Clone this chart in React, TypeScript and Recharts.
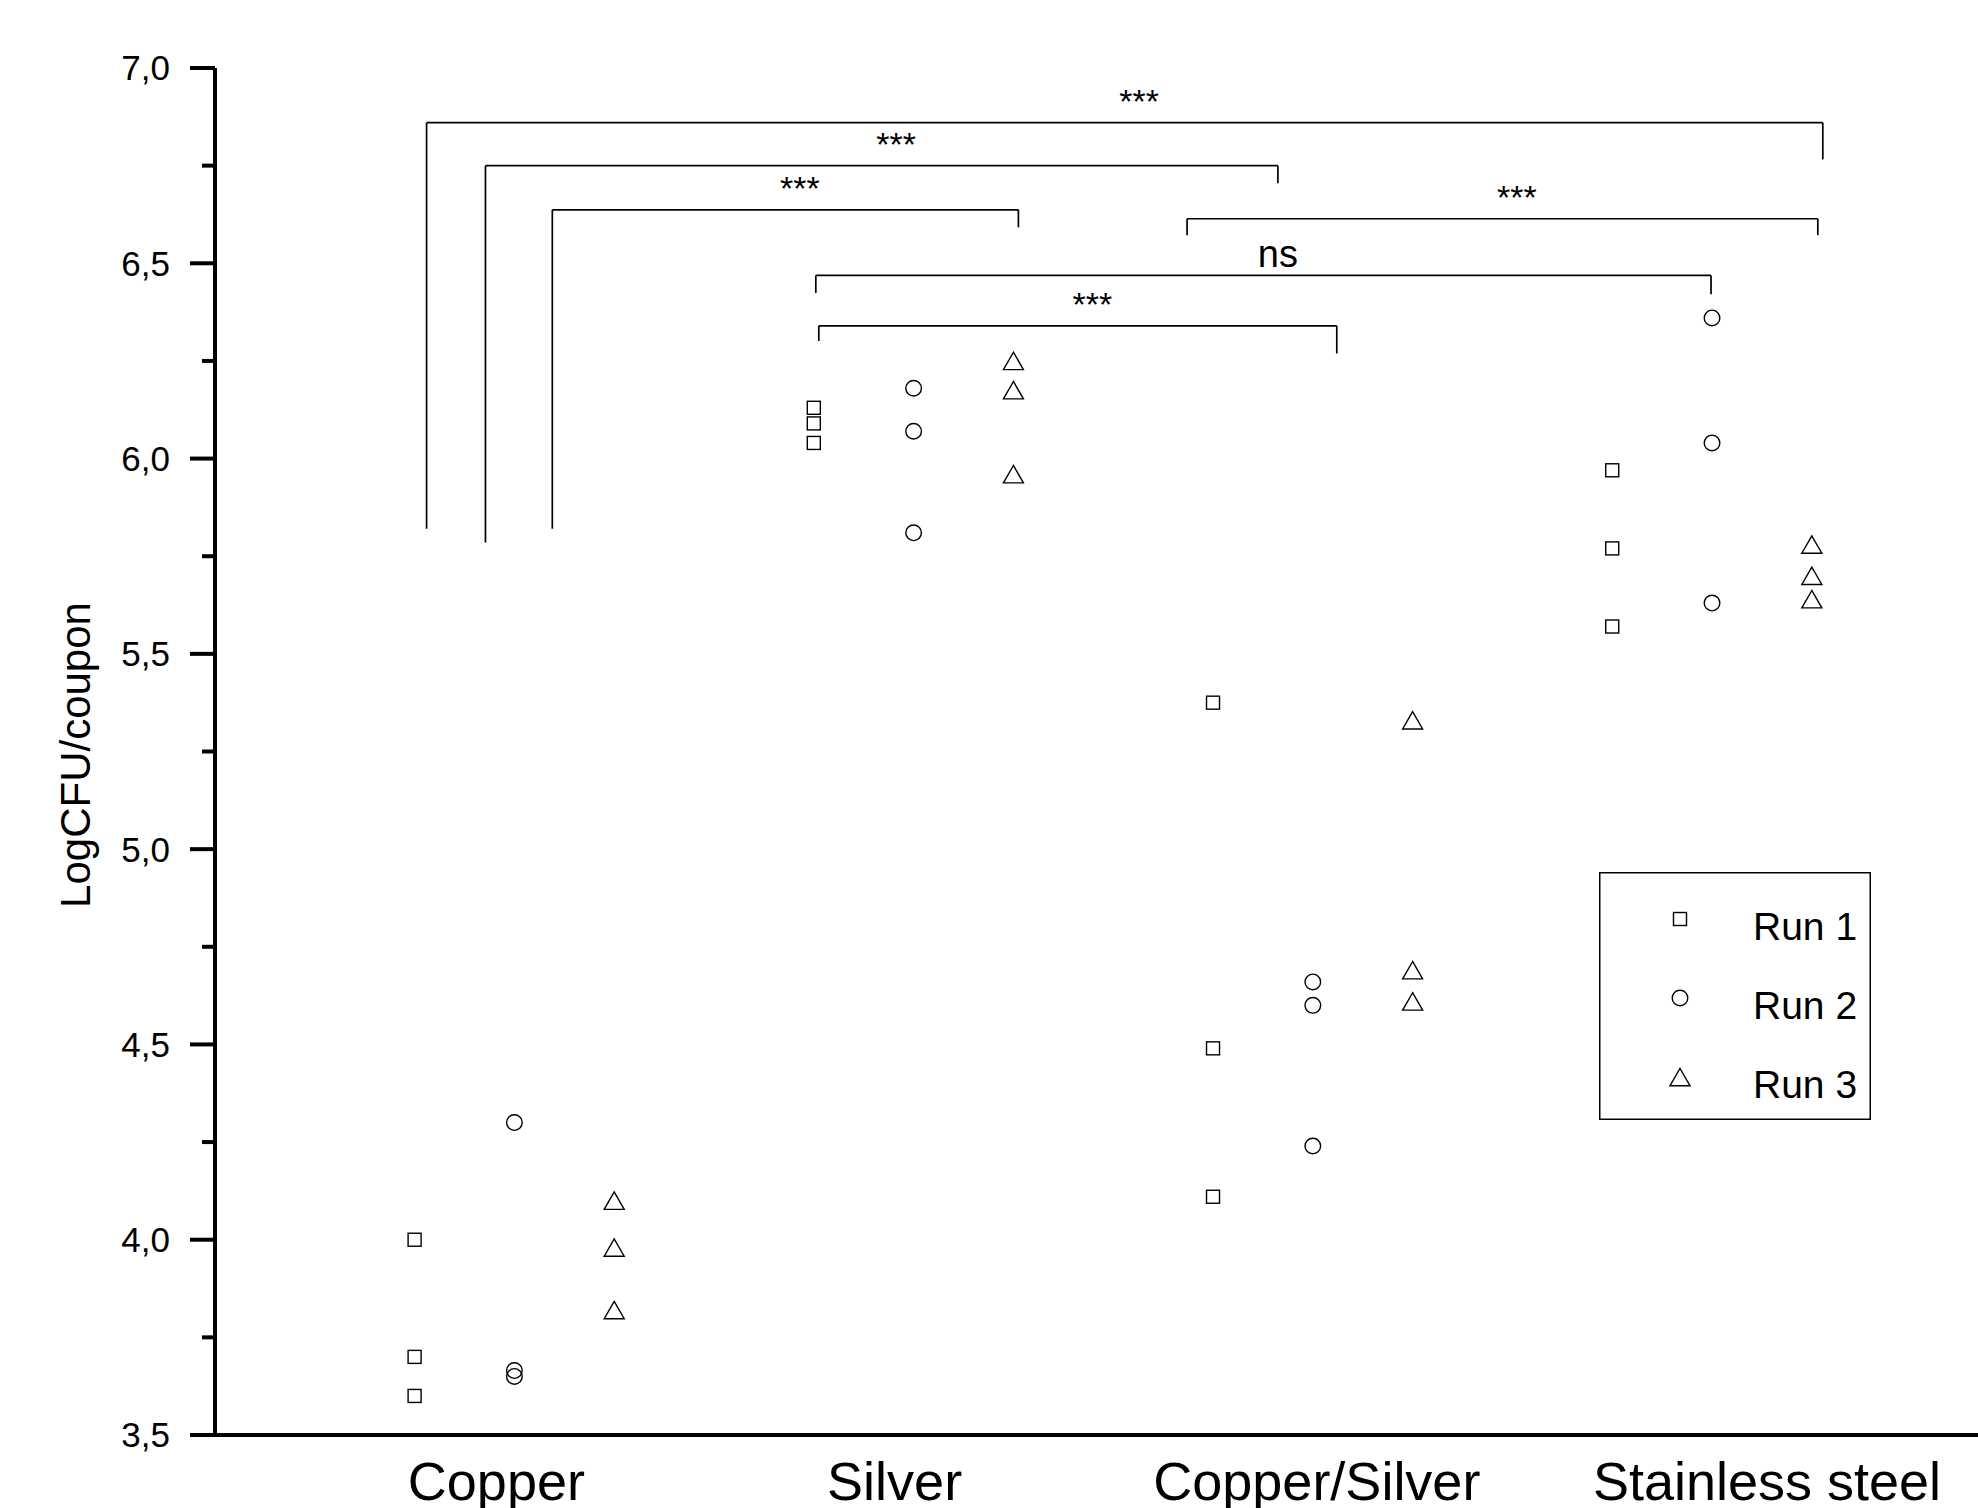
import { Legend, ReferenceLine, Scatter, ScatterChart, XAxis, YAxis } from 'recharts'

const CATEGORIES = ['Copper', 'Silver', 'Copper/Silver', 'Stainless steel']
const RUN_NAMES = ['Run 1', 'Run 2', 'Run 3']

// LogCFU/coupon, three coupons per material and run
const RUN1 = [
  [4.0, 3.7, 3.6],
  [6.13, 6.09, 6.04],
  [5.375, 4.49, 4.11],
  [5.97, 5.77, 5.57],
]
const RUN2 = [
  [4.3, 3.665, 3.65],
  [6.18, 6.07, 5.81],
  [4.66, 4.6, 4.24],
  [6.36, 6.04, 5.63],
]
const RUN3 = [
  [4.1, 3.98, 3.82],
  [6.25, 6.175, 5.96],
  [5.33, 4.69, 4.61],
  [5.78, 5.7, 5.64],
]

const Y_TICKS = [3.5, 3.75, 4, 4.25, 4.5, 4.75, 5, 5.25, 5.5, 5.75, 6, 6.25, 6.5, 6.75, 7]

// significance brackets, in axis units
const BRACKETS = [
  { from: 2.12, to: 16.11, y: 6.86, left: 5.82, right: 6.766, text: '***' },
  { from: 2.71, to: 10.65, y: 6.75, left: 5.785, right: 6.705, text: '***' },
  { from: 3.38, to: 8.05, y: 6.637, left: 5.82, right: 6.592, text: '***' },
  { from: 9.74, to: 16.06, y: 6.614, left: 6.572, right: 6.572, text: '***' },
  { from: 6.02, to: 14.99, y: 6.469, left: 6.424, right: 6.421, text: 'ns' },
  { from: 6.05, to: 11.24, y: 6.34, left: 6.301, right: 6.269, text: '***' },
]

const FONT = '"Liberation Sans", Arial, sans-serif'
const X_LABEL_SHIFT = [-18, -19, 4, 55]

const runs = [RUN1, RUN2, RUN3]
const seriesData = runs.map((run, r) =>
  run.flatMap((vals, i) => vals.map((v) => ({ x: 4 * i + 2 + r, y: v }))),
)

const Marker = ({ kind, cx, cy }: { kind: number; cx: number; cy: number }) => {
  if (kind === 0)
    return <rect x={cx - 6.5} y={cy - 6.5} width={13} height={13} fill="none" stroke="#000" strokeWidth={1.4} />
  if (kind === 1) return <circle cx={cx} cy={cy} r={7.8} fill="none" stroke="#000" strokeWidth={1.4} />
  return (
    <polygon
      points={`${cx},${cy - 8.7} ${cx - 10},${cy + 8.7} ${cx + 10},${cy + 8.7}`}
      fill="none"
      stroke="#000"
      strokeWidth={1.4}
    />
  )
}

const YTick = ({ x, y, payload }: any) => {
  const v = payload.value
  const major = Math.abs(v * 2 - Math.round(v * 2)) < 1e-6
  return (
    <g>
      <line x1={x - (major ? 25 : 13)} x2={x} y1={y} y2={y} stroke="#000" strokeWidth={4} />
      {major && (
        <text x={x - 45} y={y} dy="0.355em" textAnchor="end" fontSize={35} fontFamily={FONT} fill="#000">
          {v.toFixed(1).replace('.', ',')}
        </text>
      )}
    </g>
  )
}

const XTick = ({ x, y, payload }: any) => {
  const i = Math.round((payload.value - 3) / 4)
  return (
    <text x={x + X_LABEL_SHIFT[i]} y={y + 65} textAnchor="middle" fontSize={54} fontFamily={FONT} fill="#000">
      {CATEGORIES[i]}
    </text>
  )
}

const yTitle = () => (
  <text
    x={90}
    y={755}
    transform="rotate(-90 90 755)"
    textAnchor="middle"
    fontSize={42}
    fontFamily={FONT}
    fill="#000"
  >
    LogCFU/coupon
  </text>
)

const bracketLabel = (text: string) => (props: any) => {
  const vb = props.viewBox
  return (
    <text
      x={vb.x + vb.width / 2 + 14.5}
      y={vb.y - (text === 'ns' ? 8 : 10)}
      textAnchor="middle"
      fontSize={text === 'ns' ? 38 : 34}
      fontFamily={FONT}
      fill="#000"
    >
      {text}
    </text>
  )
}

const renderLegend = (props: any) => {
  const items = [...(props.payload || [])].sort(
    (a: any, b: any) => RUN_NAMES.indexOf(a.value) - RUN_NAMES.indexOf(b.value),
  )
  return (
    <svg width={272} height={248} style={{ display: 'block' }}>
      <rect x={0.75} y={0.75} width={270.5} height={246.5} fill="#fff" stroke="#000" strokeWidth={1.5} />
      {items.map((it: any, k: number) => {
        const cy = 47 + k * 79
        return (
          <g key={it.value}>
            <Marker kind={RUN_NAMES.indexOf(it.value)} cx={81} cy={cy} />
            <text x={154} y={cy + 21} fontSize={39} fontFamily={FONT} fill="#000">
              {it.value}
            </text>
          </g>
        )
      })}
    </svg>
  )
}

export default function App() {
  return (
    <div
      style={{
        position: 'absolute',
        left: 0,
        top: 0,
        width: 1978,
        height: 1508,
        overflow: 'hidden',
        background: '#fff',
      }}
    >
      <ScatterChart width={1978} height={1508} margin={{ top: 68, right: 0, bottom: 0, left: 0 }}>
        <XAxis
          type="number"
          dataKey="x"
          domain={[0, 17.665]}
          ticks={[3, 7, 11, 15]}
          interval={0}
          height={73}
          tickSize={0}
          tickMargin={0}
          tickLine={false}
          axisLine={{ stroke: '#000', strokeWidth: 4 }}
          tick={<XTick />}
        />
        <YAxis
          type="number"
          dataKey="y"
          domain={[3.5, 7]}
          ticks={Y_TICKS}
          interval={0}
          width={215}
          tickSize={0}
          tickMargin={0}
          tickLine={false}
          axisLine={{ stroke: '#000', strokeWidth: 4 }}
          tick={<YTick />}
          label={yTitle}
        />
        {BRACKETS.flatMap((b, k) => [
          <ReferenceLine
            key={`t${k}`}
            segment={[
              { x: b.from, y: b.y },
              { x: b.to, y: b.y },
            ]}
            stroke="#000"
            strokeWidth={1.7}
            label={bracketLabel(b.text)}
          />,
          <ReferenceLine
            key={`l${k}`}
            segment={[
              { x: b.from, y: b.y },
              { x: b.from, y: b.left },
            ]}
            stroke="#000"
            strokeWidth={1.7}
          />,
          <ReferenceLine
            key={`r${k}`}
            segment={[
              { x: b.to, y: b.y },
              { x: b.to, y: b.right },
            ]}
            stroke="#000"
            strokeWidth={1.7}
          />,
        ])}
        {seriesData.map((data, r) => (
          <Scatter
            key={RUN_NAMES[r]}
            name={RUN_NAMES[r]}
            data={data}
            isAnimationActive={false}
            shape={(p: any) => <Marker kind={r} cx={p.cx} cy={p.cy} />}
          />
        ))}
        <Legend
          layout="horizontal"
          verticalAlign="middle"
          align="center"
          content={renderLegend}
          wrapperStyle={{ left: 1599, top: 872, width: 272, height: 248 }}
        />
      </ScatterChart>
    </div>
  )
}
